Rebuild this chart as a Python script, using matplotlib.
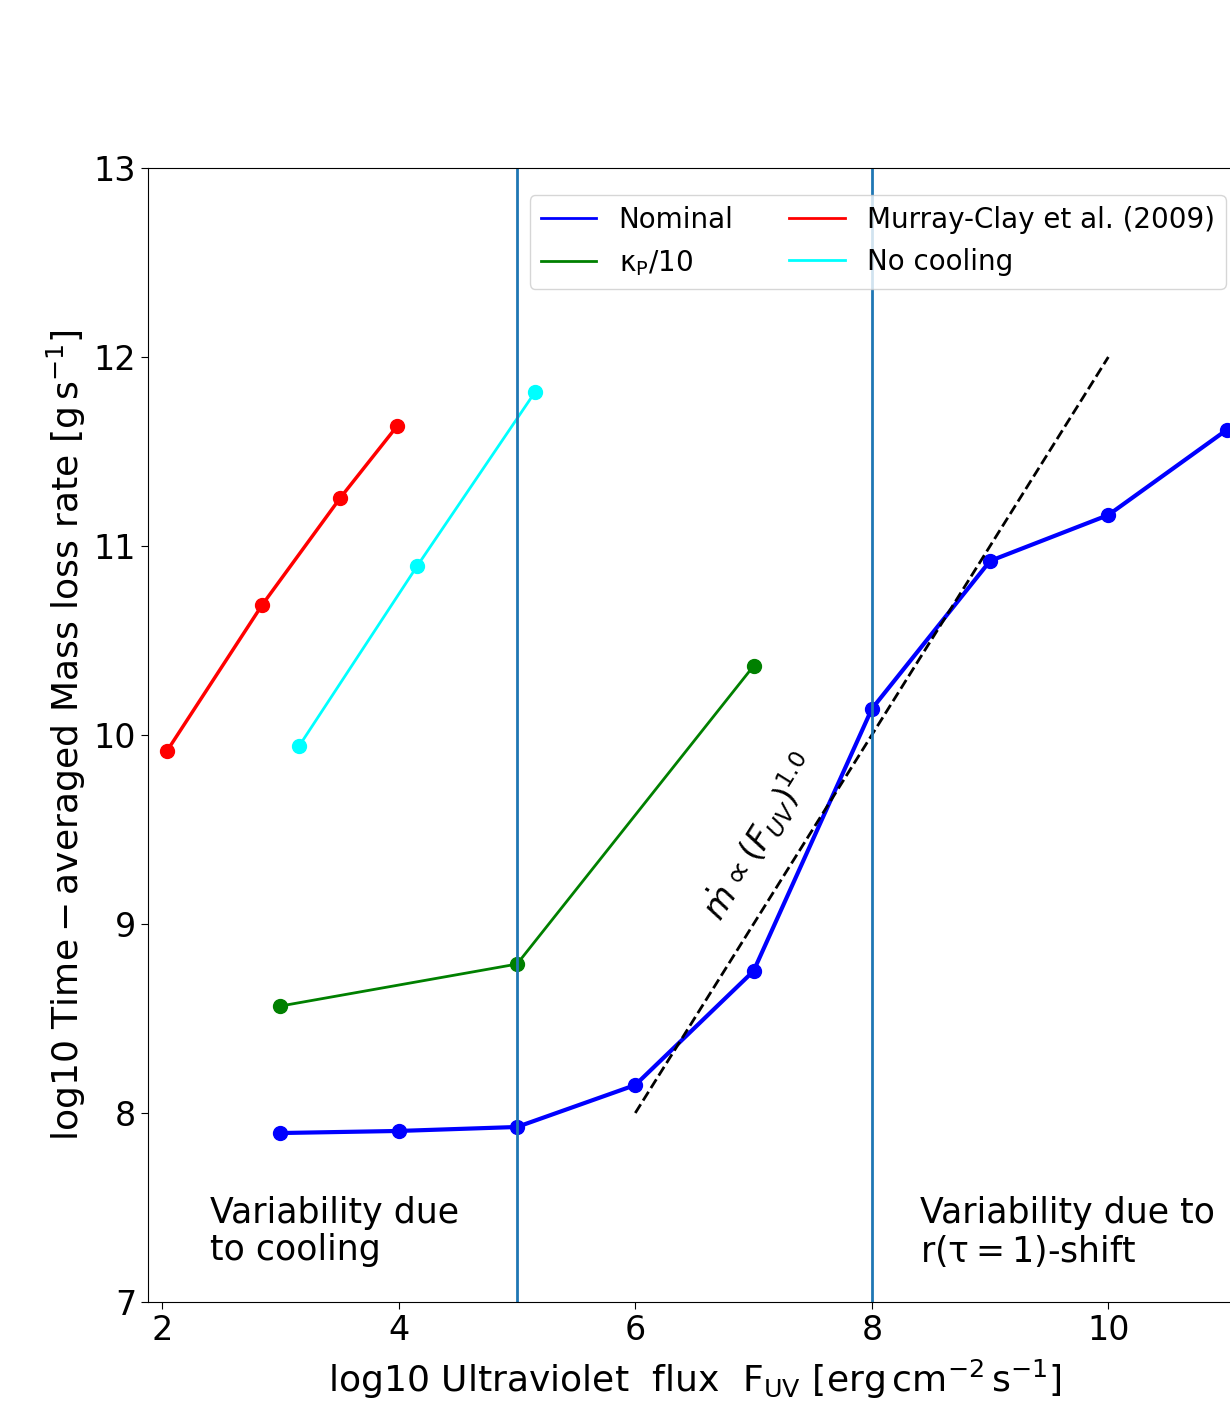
import matplotlib
matplotlib.use("Agg")
import matplotlib.pyplot as plt
from matplotlib.lines import Line2D

# Data
nominal_x = [3, 4, 5, 6, 7, 8, 9, 10, 11]
nominal_y = [7.894, 7.905, 7.926, 8.148, 8.751, 10.138, 10.921, 11.164, 11.614]

kappa_x = [3, 5, 7]
kappa_y = [8.566, 8.788, 10.365]

murray_x = [2.04, 2.845, 3.505, 3.987]
murray_y = [9.915, 10.688, 11.254, 11.635]

nocool_x = [3.158, 4.156, 5.153]
nocool_y = [9.942, 10.894, 11.815]

fit_x = [6, 10]
fit_y = [8.0, 12.0]

vlines_x = [5, 8]

fig = plt.figure(figsize=(12.3, 14.03), dpi=100)
ax = fig.add_axes([148/1230, 101/1403, (1242-148)/1230, 1134/1403])

series = [
    (nominal_x, nominal_y, 'blue', 3, 'Nominal'),
    (kappa_x, kappa_y, 'green', 2, r'$\mathrm{\kappa_P}$/10'),
    (murray_x, murray_y, 'red', 2.5, 'Murray-Clay et al. (2009)'),
    (nocool_x, nocool_y, 'cyan', 2, 'No cooling'),
]
handles = []
for xs, ys, c, lw, lab in series:
    ax.plot(xs, ys, '-', color=c, lw=lw)
    ax.plot(xs, ys, 'o', color=c, ms=10)
    handles.append(Line2D([], [], color=c, lw=2, label=lab))

ax.plot(fit_x, fit_y, '--', color='black', lw=2)
for xv in vlines_x:
    ax.axvline(xv, color='#1f77b4', lw=2)

ax.set_xlim(1.88, 11.13)
ax.set_ylim(7, 13)
ax.set_xticks([2, 4, 6, 8, 10])
ax.set_yticks([7, 8, 9, 10, 11, 12, 13])
ax.tick_params(labelsize=24, length=5)

ax.set_xlabel(r'$\mathrm{log10\ Ultraviolet\ \ flux\ \ F_{UV}\ [erg\,cm^{-2}\,s^{-1}]}$', fontsize=26, labelpad=8)
ax.set_ylabel(r'$\mathrm{log10\ Time-averaged\ Mass\ loss\ rate\ [g\,s^{-1}]}$', fontsize=26, labelpad=4)

ax.text(7.06, 9.46, r'$\dot{m} \propto (F_{UV})^{1.0}$', rotation=58,
        ha='center', va='center', rotation_mode='anchor', fontsize=24)

ax.text(2.406, 7.56, 'Variability due\nto cooling', ha='left', va='top', fontsize=25, linespacing=1.1)
ax.text(8.407, 7.56, 'Variability due to\n' + r'$\mathrm{r(\tau=1)}$-shift', ha='left', va='top', fontsize=25, linespacing=1.1)

ax.legend(handles=handles, ncol=2, loc='upper right', bbox_to_anchor=(1226/1230, 1 - 195/1403),
          bbox_transform=fig.transFigure, fontsize=20, borderaxespad=0)

fig.savefig('out.png', dpi=100)
